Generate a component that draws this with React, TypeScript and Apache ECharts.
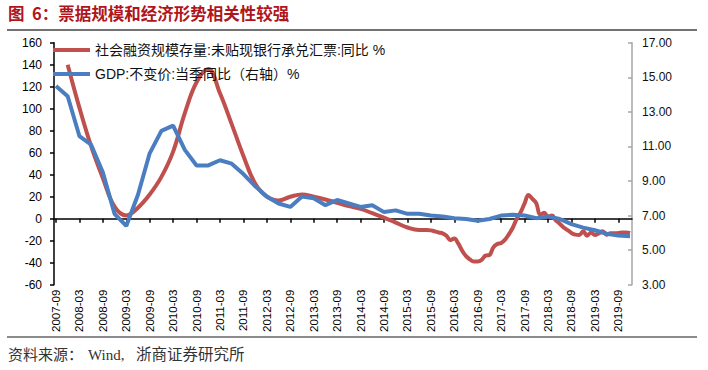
import React, { useEffect, useRef } from "react";
import * as echarts from "echarts";

// Monthly category axis: 2007-09 .. 2019-12
const START_YEAR = 2007;
const START_MONTH = 9;
const END_YEAR = 2019;
const END_MONTH = 12;
const categories: string[] = [];
{
  let y = START_YEAR;
  let m = START_MONTH;
  while (y < END_YEAR || (y === END_YEAR && m <= END_MONTH)) {
    categories.push(`${y}-${String(m).padStart(2, "0")}`);
    m++;
    if (m > 12) {
      m = 1;
      y++;
    }
  }
}

const billName = "社会融资规模存量:未贴现银行承兑汇票:同比 %";
const gdpName = "GDP:不变价:当季同比（右轴）%";

// GDP real YoY, quarterly, 2007-09 .. 2019-12 (right axis)
const gdpQuarterly = [
  14.5, 13.9,
  11.6, 11.1, 9.5, 7.1,
  6.4, 8.2, 10.6, 11.9,
  12.2, 10.8, 9.9, 9.9,
  10.2, 10.0, 9.4, 8.7,
  8.1, 7.7, 7.5, 8.1,
  8.0, 7.6, 7.9, 7.7,
  7.5, 7.6, 7.2, 7.3,
  7.1, 7.1, 7.0, 6.95,
  6.85, 6.8, 6.7, 6.8,
  7.0, 7.05, 7.0, 6.85,
  6.95, 6.8, 6.5, 6.3,
  6.15, 5.95, 5.85, 5.8,
];

// Bill stock YoY, quarterly points 2007-12 .. 2015-06 (left axis)
const billQuarterly = [
  140,
  101, 66, 37, 11,
  3, 10, 22, 38,
  61, 96, 124, 136,
  114, 86, 57, 32,
  20, 16.5, 20, 22,
  20, 17.5, 14.5, 11.5,
  9, 5, 1, -3.5,
  -8, -10.3,
];

// Bill stock YoY, monthly 2015-07 .. 2019-12 (left axis)
const billMonthly = [
  -10.3, -10.3, -10.6, -11.5, -12.5, -13.3,
  -15.5, -19.5, -18.0, -22.5, -29, -34, -37, -39, -39, -37.5, -33.5, -33,
  -26, -23, -22, -19, -14, -8, 0, 6, 14, 21.5, 18, 14,
  3.5, 5.5, 1.8, 2.8, -1.5, -4.5, -8, -10.3, -13, -14.5, -14.8, -11.5,
  -15.5, -12.5, -14.8, -13.3, -11.5, -14.5, -13.3, -13.3, -13, -12.5, -12.5, -13,
];

const leftTicks = { min: -60, max: 160, interval: 20 };
const rightTicks = { min: 3, max: 17, interval: 2 };

const gdpData = categories.map((_, i) => (i % 3 === 0 ? gdpQuarterly[i / 3] ?? null : null));
const billData = categories.map((_, i) => {
  if (i < 3) return null;
  if (i <= 93) return i % 3 === 0 ? billQuarterly[(i - 3) / 3] ?? null : null;
  return billMonthly[i - 94] ?? null;
});

const SANS = "'Liberation Sans', Arial, 'Noto Sans CJK SC', sans-serif";
const SERIF = "'Liberation Serif', 'Times New Roman', 'Noto Sans CJK SC', serif";

export default function App() {
  const ref = useRef<HTMLDivElement>(null);
  useEffect(() => {
    if (!ref.current) return;
    const chart = echarts.init(ref.current, undefined, { renderer: "svg" });
    chart.setOption({
      animation: false,
      backgroundColor: "#fff",
      grid: { left: 54, right: 76, top: 42.7, bottom: 85.3, containLabel: false },
      legend: {
        orient: "vertical",
        left: 48,
        top: 38,
        itemWidth: 37,
        itemHeight: 4,
        itemGap: 10,
        icon: "rect",
        textStyle: { fontSize: 14, color: "#111", fontFamily: SANS },
        data: [billName, gdpName],
      },
      graphic: [
        {
          type: "text",
          left: 8,
          top: 5,
          style: {
            text: "图\u00A0\u00A06：票据规模和经济形势相关性较强",
            fontSize: 16.5,
            fontWeight: "bold",
            fill: "#B0151C",
            fontFamily: "'Noto Sans CJK SC', sans-serif",
          },
        },
        {
          type: "line",
          shape: { x1: 7, y1: 30, x2: 697, y2: 30 },
          style: { stroke: "#444", lineWidth: 1.5 },
        },
        {
          type: "line",
          shape: { x1: 7, y1: 337, x2: 697, y2: 337 },
          style: { stroke: "#666", lineWidth: 1.5 },
        },
        {
          type: "text",
          left: 8,
          top: 347,
          style: { text: "资料来源：", fontSize: 15, fill: "#333", fontFamily: SERIF },
        },
        {
          type: "text",
          left: 88,
          top: 347,
          style: { text: "Wind,", fontSize: 15, fill: "#333", fontFamily: SERIF },
        },
        {
          type: "text",
          left: 136,
          top: 347,
          style: { text: "浙商证券研究所", fontSize: 15.5, fill: "#333", fontFamily: SERIF },
        },
      ],
      xAxis: [
        {
          type: "category",
          data: categories,
          boundaryGap: true,
          axisLine: { show: true, onZero: true, onZeroAxisIndex: 0, lineStyle: { color: "#000", width: 1.5 } },
          axisTick: { show: true, interval: 5, alignWithLabel: true, length: 4, lineStyle: { color: "#000", width: 1.5 } },
          axisLabel: { show: false },
          splitLine: { show: false },
        },
        {
          type: "category",
          data: categories,
          position: "bottom",
          boundaryGap: true,
          axisLine: { show: false, onZero: false },
          axisTick: { show: false },
          axisLabel: { interval: 5, rotate: 90, fontSize: 11.5, color: "#000", margin: 5, fontFamily: SANS },
          splitLine: { show: false },
        },
      ],
      yAxis: [
        {
          type: "value",
          ...leftTicks,
          position: "left",
          axisLine: { show: true, onZero: false, lineStyle: { color: "#000", width: 1.5 } },
          axisTick: { show: true, length: 4, lineStyle: { color: "#000", width: 1.5 } },
          axisLabel: { fontSize: 12, color: "#000", margin: 12, fontFamily: SANS },
          splitLine: { show: false },
        },
        {
          type: "value",
          ...rightTicks,
          position: "right",
          axisLine: { show: true, onZero: false, lineStyle: { color: "#A6A6A6", width: 1.5 } },
          axisTick: { show: true, inside: true, length: 4, lineStyle: { color: "#A6A6A6", width: 1.5 } },
          axisLabel: {
            fontSize: 12,
            color: "#111",
            margin: 10,
            fontFamily: SANS,
            formatter: (v: number) => v.toFixed(2),
          },
          splitLine: { show: false },
        },
      ],
      series: [
        {
          name: billName,
          type: "line",
          xAxisIndex: 0,
          yAxisIndex: 0,
          data: billData,
          connectNulls: true,
          smooth: 0.4,
          symbol: "none",
          showSymbol: false,
          lineStyle: { width: 4, color: "#C0504D" },
          itemStyle: { color: "#C0504D" },
        },
        {
          name: gdpName,
          type: "line",
          xAxisIndex: 0,
          yAxisIndex: 1,
          data: gdpData,
          connectNulls: true,
          smooth: false,
          symbol: "none",
          showSymbol: false,
          lineStyle: { width: 4, color: "#4A7EC1" },
          itemStyle: { color: "#4A7EC1" },
        },
      ],
    });
    return () => chart.dispose();
  }, []);
  return (
    <div
      ref={ref}
      style={{ position: "absolute", left: 0, top: 0, width: 708, height: 370, background: "#fff" }}
    />
  );
}
